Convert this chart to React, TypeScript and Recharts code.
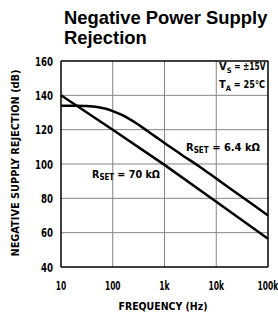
import React from 'react';
import { LineChart, Line, XAxis, YAxis, Customized } from 'recharts';

// Series: R_SET = 70 kΩ
const freqA = [10, 100, 1000, 10000, 100000];
const dbA = [140, 120, 99.5, 78, 56.5];
// Series: R_SET = 6.4 kΩ
const freqB = [10, 20, 30, 50, 70, 100, 150, 200, 300, 500, 700, 1000, 2000, 5000, 10000, 20000, 50000, 100000];
const dbB = [134, 134, 133.8, 133.2, 132.3, 130.8, 128.6, 126.6, 123.3, 118.6, 115.5, 112.2, 106, 98, 91.5, 85, 76.5, 70];

const xTicks = [10, 100, 1000, 10000, 100000];
const xTickLabels = ['10', '100', '1k', '10k', '100k'];
const yTicks = [40, 60, 80, 100, 120, 140, 160];
const gridX = [100, 1000, 10000];
const gridY = [60, 80, 100, 120, 140];
const X_MIN = 10;
const X_MAX = 100000;
const Y_MIN = 40;
const Y_MAX = 160;

const dataA = freqA.map((f, i) => ({ f, v: dbA[i] }));
const dataB = freqB.map((f, i) => ({ f, v: dbB[i] }));

// layout
const W = 278;
const H = 314;
const M = { top: 61, right: 10, bottom: 0, left: 0 };
const Y_AXIS_W = 61;
const X_AXIS_H = 47;
const PL = M.left + Y_AXIS_W;
const PR = W - M.right;
const PT = M.top;
const PB = H - M.bottom - X_AXIS_H;
const sx = (f: number) => PL + ((Math.log10(f) - Math.log10(X_MIN)) / (Math.log10(X_MAX) - Math.log10(X_MIN))) * (PR - PL);
const sy = (v: number) => PT + ((Y_MAX - v) / (Y_MAX - Y_MIN)) * (PB - PT);

const COND = '"DejaVu Sans Condensed", "DejaVu Sans", sans-serif';
const TITLE = '"Liberation Sans", Arial, sans-serif';

const XTick = (props: any) => {
  const { x, y, payload } = props;
  const label = xTickLabels[xTicks.indexOf(payload.value)] ?? '';
  return (
    <text x={x} y={y + 15} textAnchor="middle" fontFamily={COND} fontWeight="bold" fontSize={12}
      textLength={label.length * 5.2} lengthAdjust="spacingAndGlyphs" fill="#000">
      {label}
    </text>
  );
};

const YTick = (props: any) => {
  const { x, y, payload } = props;
  const label = String(payload.value);
  return (
    <text x={x} y={y + 4.5} textAnchor="end" fontFamily={COND} fontWeight="bold" fontSize={13}
      textLength={label.length * 6} lengthAdjust="spacingAndGlyphs" fill="#000">
      {label}
    </text>
  );
};

const GridLayer = () => (
  <g>
    {gridY.map((v) => (
      <line key={'gy' + v} x1={PL} x2={PR} y1={sy(v)} y2={sy(v)} stroke="#858585" strokeWidth={1} />
    ))}
    {gridX.map((f) => (
      <line key={'gx' + f} x1={sx(f)} x2={sx(f)} y1={PT} y2={PB} stroke="#858585" strokeWidth={1} />
    ))}
    <line x1={PL} x2={PR} y1={sy(Y_MAX)} y2={sy(Y_MAX)} stroke="#000" strokeWidth={1.5} />
    <line x1={sx(X_MAX)} x2={sx(X_MAX)} y1={PT} y2={PB} stroke="#000" strokeWidth={1.5} />
  </g>
);

const Overlay = () => (
  <g>
    <text x={64} y={24} fontFamily={TITLE} fontWeight="bold" fontSize={18.4} fill="#000">Negative Power Supply</text>
    <text x={64} y={44} fontFamily={TITLE} fontWeight="bold" fontSize={18.4} fill="#000">Rejection</text>
    <text
      x={15}
      y={163}
      transform="rotate(-90 15 163)"
      textAnchor="middle"
      dominantBaseline="central"
      fontFamily={COND}
      fontWeight="bold"
      fontSize={10}
      textLength={187}
      lengthAdjust="spacingAndGlyphs"
      fill="#000"
    >
      NEGATIVE SUPPLY REJECTION (dB)
    </text>
    <text x={163} y={310} textAnchor="middle" fontFamily={COND} fontWeight="bold" fontSize={11} textLength={89} lengthAdjust="spacingAndGlyphs" fill="#000">
      FREQUENCY (Hz)
    </text>
    <text x={219} y={70} fontFamily={COND} fontWeight="bold" fontSize={11} fill="#000">
      <tspan>V</tspan>
      <tspan fontSize={7.5} dy={2.5}>S</tspan>
      <tspan dy={-2.5} textLength={34} lengthAdjust="spacingAndGlyphs"> = ±15V</tspan>
    </text>
    <text x={219} y={88} fontFamily={COND} fontWeight="bold" fontSize={11} fill="#000">
      <tspan>T</tspan>
      <tspan fontSize={7.5} dy={2.5}>A</tspan>
      <tspan dy={-2.5} textLength={34} lengthAdjust="spacingAndGlyphs"> = 25°C</tspan>
    </text>
    <text x={186} y={151} fontFamily={COND} fontWeight="bold" fontSize={11} fill="#000" textLength={74} lengthAdjust="spacingAndGlyphs">
      R<tspan fontSize={8} dy={2}>SET</tspan><tspan dy={-2}> = 6.4 kΩ</tspan>
    </text>
    <text x={92} y={178} fontFamily={COND} fontWeight="bold" fontSize={11} fill="#000" textLength={68} lengthAdjust="spacingAndGlyphs">
      R<tspan fontSize={8} dy={2}>SET</tspan><tspan dy={-2}> = 70 kΩ</tspan>
    </text>
  </g>
);

export default function App() {
  return (
    <div style={{ position: 'absolute', left: 0, top: 0, width: W, height: H, background: '#fff' }}>
      <LineChart width={W} height={H} data={dataB} margin={M}>
        <Customized component={GridLayer} />
        <XAxis
          dataKey="f"
          type="number"
          scale="log"
          domain={[X_MIN, X_MAX]}
          ticks={xTicks}
          height={X_AXIS_H}
          tickLine={false}
          axisLine={{ stroke: '#000', strokeWidth: 1.5 }}
          tick={<XTick />}
          interval={0}
        />
        <YAxis
          type="number"
          domain={[Y_MIN, Y_MAX]}
          ticks={yTicks}
          width={Y_AXIS_W}
          tickLine={false}
          axisLine={{ stroke: '#000', strokeWidth: 1.5 }}
          tick={<YTick />}
          interval={0}
        />
        <Line data={dataA} dataKey="v" type="linear" stroke="#000" strokeWidth={2.5} dot={false} isAnimationActive={false} />
        <Line dataKey="v" type="monotone" stroke="#000" strokeWidth={2.5} dot={false} isAnimationActive={false} />
        <Customized component={Overlay} />
      </LineChart>
    </div>
  );
}
